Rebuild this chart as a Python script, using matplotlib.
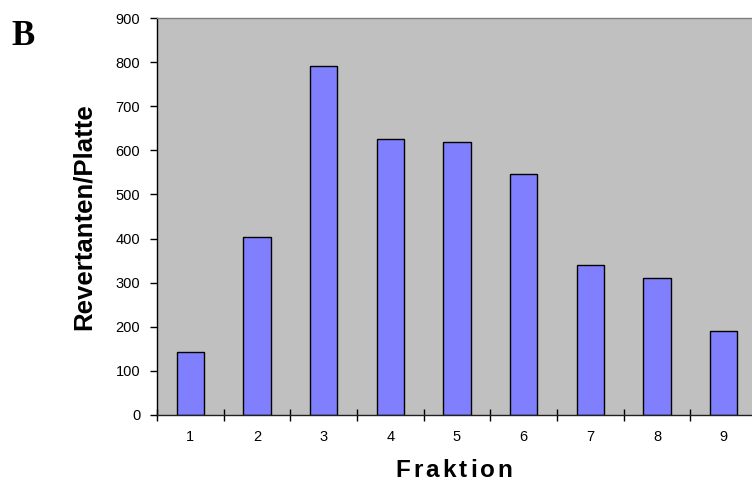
import numpy as np
import matplotlib
matplotlib.use("Agg")
import matplotlib.pyplot as plt

# Daten
fraktionen = [1, 2, 3, 4, 5, 6, 7, 8, 9]
revertanten = [143, 404, 791, 626, 618, 546, 340, 311, 191]
y_ticks = [0, 100, 200, 300, 400, 500, 600, 700, 800, 900]

W, H = 752, 482
fig = plt.figure(figsize=(W / 100, H / 100), dpi=100)
plt.rcParams['font.family'] = ['Liberation Sans', 'DejaVu Sans']

# Plotbereich (rechter Rand läuft über das Bild hinaus)
ax = fig.add_axes([157 / W, 67 / H, 600 / W, 397 / H])
ax.set_facecolor('#C0C0C0')
ax.bar(fraktionen, revertanten, width=0.41, color='#8080FF',
       edgecolor='black', linewidth=1.0, zorder=2)

ax.set_xlim(0.5, len(fraktionen) + 0.5)
ax.set_ylim(0, 900)
ax.set_yticks(y_ticks)
ax.tick_params(axis='y', direction='out', length=5, width=1, pad=7,
               labelsize=10.5, colors='black')

# Striche zwischen den Kategorien, Beschriftung in der Mitte
ax.set_xticks(np.arange(0.5, len(fraktionen) + 1.0, 1.0))
ax.set_xticklabels([])
ax.tick_params(axis='x', which='major', direction='inout', length=9, width=1)
ax.set_xticks(fraktionen, minor=True)
ax.set_xticklabels([str(f) for f in fraktionen], minor=True)
ax.tick_params(axis='x', which='minor', length=0, pad=11, labelsize=10.5)

ax.spines['left'].set_color('black')
ax.spines['bottom'].set_color('#202020')
ax.spines['top'].set_color('#808080')
ax.spines['right'].set_visible(False)
for s in ax.spines.values():
    s.set_linewidth(1.0)

# Achsentitel
fig.text(84 / W, 1 - 217 / H, 'Revertanten/Platte', rotation=90,
         ha='center', va='center', fontsize=18.5, fontweight='bold')

# "Fraktion" mit Sperrung, Buchstabe für Buchstabe
label = 'Fraktion'
spacing = 3.0
fig.canvas.draw()
rend = fig.canvas.get_renderer()
letters = []
widths = []
for ch in label:
    t = fig.text(0, 0, ch, fontsize=17.5, fontweight='bold', ha='left',
                 va='baseline')
    letters.append(t)
    widths.append(t.get_window_extent(renderer=rend).width)
total = sum(widths) + spacing * (len(label) - 1)
x0 = 454 - total / 2
for t, w in zip(letters, widths):
    t.set_position((x0 / W, 1 - 477 / H))
    x0 += w + spacing

# Panelbuchstabe
fig.text(11 / W, 1 - 45 / H, 'B', family=['Liberation Serif', 'DejaVu Serif'],
         fontsize=25, fontweight='bold', ha='left', va='baseline')

fig.savefig('out.png', dpi=100)
